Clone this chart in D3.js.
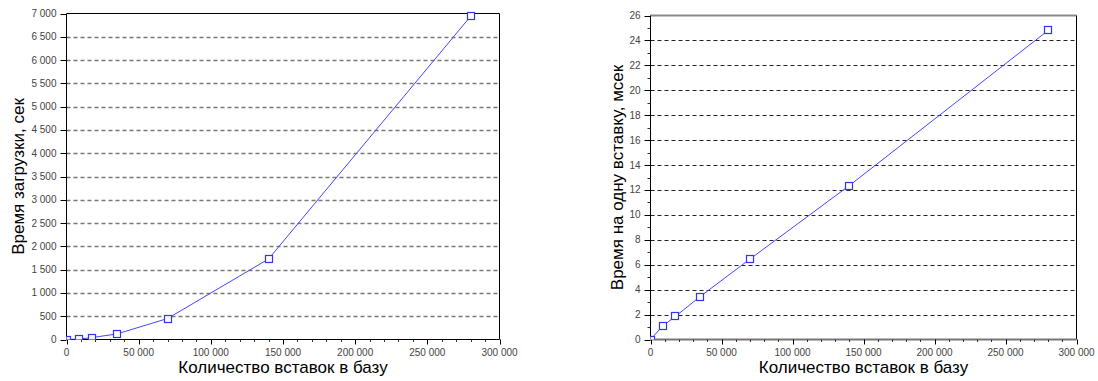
<!DOCTYPE html>
<html>
<head>
<meta charset="utf-8">
<script src="https://cdn.jsdelivr.net/npm/d3@7"></script>
<style>
  body { margin: 0; background: #fff; }
  text { font-family: "Liberation Sans", Arial, sans-serif; }
</style>
</head>
<body>
<div id="wrapper"></div>
<script>
// data
const insertCounts = [0, 8750, 17500, 35000, 70000, 140000, 280000]
const loadTimeSec = [0, 8, 40, 120, 450, 1730, 6940]
const perInsertMs = [0, 1.1, 1.85, 3.45, 6.45, 12.35, 24.8]

const xTicks = [0, 50000, 100000, 150000, 200000, 250000, 300000]
const leftYTicks = d3.range(0, 7001, 500)
const rightYTicks = d3.range(0, 27, 2)

const xTitle = "Количество вставок в базу"
const leftYTitle = "Время загрузки, сек"
const rightYTitle = "Время на одну вставку, мсек"

const fmt = d => d3.format(",")(d).replace(/,/g, " ")

const svg = d3.select("#wrapper").append("svg")
    .attr("width", 1098).attr("height", 381)

function drawChart(opts) {
    const x = d3.scaleLinear().domain([0, 300000]).range([opts.left, opts.right])
    const y = d3.scaleLinear().domain([0, opts.yMax]).range([339.5, opts.top])
    const g = svg.append("g")

    // grid
    g.selectAll("line.grid").data(opts.yTicks.filter(d => d > 0 && d < opts.yMax))
        .enter().append("line")
        .attr("x1", opts.left).attr("x2", opts.right)
        .attr("y1", d => Math.round(y(d)) + 0.5).attr("y2", d => Math.round(y(d)) + 0.5)
        .attr("stroke", opts.gridColor).attr("stroke-width", opts.gridWidth)
        .attr("stroke-dasharray", "4,3")

    // frame
    g.append("line").attr("x1", opts.left).attr("x2", opts.right)
        .attr("y1", opts.top).attr("y2", opts.top)
        .attr("stroke", opts.topColor).attr("stroke-width", opts.topWidth)
    g.append("line").attr("x1", opts.right).attr("x2", opts.right)
        .attr("y1", opts.top).attr("y2", 339.5).attr("stroke", "#000")
    g.append("line").attr("x1", opts.left).attr("x2", opts.left)
        .attr("y1", opts.top).attr("y2", 339.5).attr("stroke", "#000")
    g.append("line").attr("x1", opts.left).attr("x2", opts.right)
        .attr("y1", 339.5).attr("y2", 339.5)
        .attr("stroke", opts.bottomColor).attr("stroke-width", opts.bottomWidth)

    // x ticks
    const xMinor = d3.range(0, 300001, 10000).filter(d => d % 50000 != 0)
    g.selectAll("line.xmin").data(xMinor).enter().append("line")
        .attr("x1", d => Math.round(x(d)) + 0.5).attr("x2", d => Math.round(x(d)) + 0.5)
        .attr("y1", 339.5).attr("y2", 342).attr("stroke", "#333")
    g.selectAll("line.xmaj").data(xTicks).enter().append("line")
        .attr("x1", d => Math.round(x(d)) + 0.5).attr("x2", d => Math.round(x(d)) + 0.5)
        .attr("y1", 339.5).attr("y2", 344.5).attr("stroke", "#000")
    g.selectAll("text.xl").data(xTicks).enter().append("text")
        .attr("x", d => x(d)).attr("y", 356)
        .attr("text-anchor", "middle").attr("font-size", 10).attr("fill", "#444")
        .text(fmt)

    // y ticks
    if (opts.yMinor) {
        g.selectAll("line.ymin").data(opts.yMinor).enter().append("line")
            .attr("x1", opts.left - 3).attr("x2", opts.left)
            .attr("y1", d => Math.round(y(d)) + 0.5).attr("y2", d => Math.round(y(d)) + 0.5)
            .attr("stroke", "#333")
    }
    g.selectAll("line.ymaj").data(opts.yTicks).enter().append("line")
        .attr("x1", opts.left - 6).attr("x2", opts.left)
        .attr("y1", d => Math.round(y(d)) + 0.5).attr("y2", d => Math.round(y(d)) + 0.5)
        .attr("stroke", "#000")
    g.selectAll("text.yl").data(opts.yTicks).enter().append("text")
        .attr("x", opts.left - 10).attr("y", d => y(d) + 3.5)
        .attr("text-anchor", "end").attr("font-size", 10).attr("fill", "#444")
        .text(fmt)

    // titles
    g.append("text").attr("x", (opts.left + opts.right) / 2).attr("y", 373)
        .attr("text-anchor", "middle").attr("font-size", 17).attr("fill", "#000")
        .text(xTitle)
    g.append("text")
        .attr("transform", `translate(${opts.titleX},${(opts.top + 339.5) / 2}) rotate(-90)`)
        .attr("text-anchor", "middle").attr("font-size", 17).attr("fill", "#000")
        .text(opts.yTitle)

    // series
    const clipId = "clip" + opts.left
    svg.append("clipPath").attr("id", clipId).append("rect")
        .attr("x", opts.left).attr("y", opts.top - 6)
        .attr("width", opts.right - opts.left).attr("height", 339.5 - opts.top + 6)
    const pts = insertCounts.map((c, i) => ({ c: c, v: opts.values[i] }))
    const line = d3.line().x(d => x(d.c)).y(d => y(d.v))
    const s = g.append("g").attr("clip-path", `url(#${clipId})`)
    s.append("path").datum(pts).attr("d", line)
        .attr("fill", "none").attr("stroke", "#4646ff").attr("stroke-width", 1)
    s.selectAll("rect").data(pts).enter().append("rect")
        .attr("x", d => Math.round(x(d.c)) - 3.5).attr("y", d => Math.round(y(d.v)) - 3.5)
        .attr("width", 7).attr("height", 7)
        .attr("fill", "#fff").attr("stroke", "#3232ff").attr("stroke-width", 1.2)
}

drawChart({
    left: 66.5, right: 499.5, top: 13.5, yMax: 7000,
    yTicks: leftYTicks, values: loadTimeSec, yTitle: leftYTitle, titleX: 24,
    gridColor: "#777", gridWidth: 1.3, topColor: "#000", topWidth: 1,
    bottomColor: "#000", bottomWidth: 1
})

drawChart({
    left: 650.5, right: 1076.5, top: 15.5, yMax: 26,
    yTicks: rightYTicks, yMinor: d3.range(1, 26, 2), values: perInsertMs,
    yTitle: rightYTitle, titleX: 623,
    gridColor: "#222", gridWidth: 1, topColor: "#888", topWidth: 2,
    bottomColor: "#777", bottomWidth: 2
})
</script>
</body>
</html>
